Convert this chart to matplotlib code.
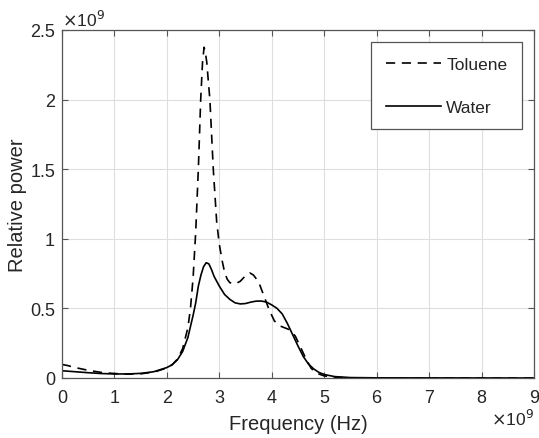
import matplotlib
matplotlib.use("Agg")
import matplotlib.pyplot as plt

plt.rcParams["font.family"] = ["Liberation Sans", "DejaVu Sans"]

# frequency in units of 1e9 Hz, relative power in units of 1e9
water_freq = [0, 0.25, 0.5, 0.75, 1.0, 1.25, 1.5, 1.75, 2.0, 2.1, 2.2, 2.3, 2.4, 2.5,
              2.55, 2.6, 2.65, 2.7, 2.75, 2.8, 2.85, 2.9, 3.0, 3.1, 3.2, 3.3, 3.4,
              3.5, 3.6, 3.7, 3.8, 3.9, 4.0, 4.1, 4.2, 4.3, 4.4, 4.5, 4.6, 4.7, 4.8,
              4.9, 5.0, 5.2, 5.5, 6.0, 9.0]
water_power = [0.052, 0.045, 0.038, 0.032, 0.029, 0.029, 0.033, 0.045, 0.075, 0.095,
               0.13, 0.19, 0.29, 0.45, 0.54, 0.66, 0.74, 0.80, 0.828, 0.82, 0.78,
               0.73, 0.66, 0.60, 0.565, 0.54, 0.532, 0.535, 0.545, 0.552, 0.553,
               0.545, 0.525, 0.50, 0.46, 0.39, 0.31, 0.23, 0.155, 0.10, 0.065,
               0.04, 0.025, 0.01, 0.003, 0.001, 0.0]

toluene_freq = [0, 0.1, 0.25, 0.5, 0.75, 1.0, 1.25, 1.5, 1.75, 2.0, 2.1, 2.2, 2.3,
                2.4, 2.45, 2.5, 2.55, 2.6, 2.645, 2.68, 2.71, 2.73, 2.76, 2.82,
                2.885, 2.95, 3.0, 3.05, 3.1, 3.15, 3.2, 3.3, 3.4, 3.5, 3.58, 3.65,
                3.75, 3.85, 3.95, 4.05, 4.15, 4.25, 4.35, 4.45, 4.55, 4.65, 4.75,
                4.85, 5.0, 5.2, 5.5, 6.0, 9.0]
toluene_power = [0.097, 0.09, 0.075, 0.055, 0.04, 0.032, 0.028, 0.03, 0.042, 0.072,
                 0.095, 0.135, 0.21, 0.36, 0.5, 0.72, 1.05, 1.50, 2.0, 2.27, 2.376,
                 2.35, 2.27, 2.0, 1.5, 1.12, 0.96, 0.85, 0.76, 0.71, 0.685, 0.675,
                 0.695, 0.735, 0.755, 0.74, 0.69, 0.59, 0.49, 0.41, 0.375, 0.36,
                 0.345, 0.30, 0.22, 0.14, 0.07, 0.035, 0.015, 0.005, 0.001, 0.0, 0.0]

x_ticks = [0, 1, 2, 3, 4, 5, 6, 7, 8, 9]
y_ticks = [0, 0.5, 1, 1.5, 2, 2.5]
y_tick_labels = ["0", "0.5", "1", "1.5", "2", "2.5"]

text_color = "#262626"
axis_color = "#555555"

fig = plt.figure(figsize=(5.39, 4.39), dpi=100)
ax = fig.add_axes([0.115, 0.1367, 0.8757, 0.7927])

ax.plot(toluene_freq, toluene_power, color="black", linestyle="--",
        dashes=(5.5, 4), linewidth=1.2, label="Toluene")
ax.plot(water_freq, water_power, color="black", linestyle="-",
        linewidth=1.2, label="Water")

ax.set_xlim(0, 9)
ax.set_ylim(0, 2.5)
ax.set_xticks(x_ticks)
ax.set_yticks(y_ticks)
ax.set_yticklabels(y_tick_labels)

ax.grid(True, color="#dedede", linewidth=0.8)
ax.set_axisbelow(True)

for side in ax.spines.values():
    side.set_color(axis_color)
    side.set_linewidth(0.9)

ax.tick_params(axis="both", direction="in", length=4, width=0.8, color=axis_color,
               labelsize=13, labelcolor=text_color, top=True, right=True, pad=5)
ax.tick_params(axis="x", pad=8)

ax.set_xlabel("Frequency (Hz)", fontsize=14.5, color=text_color, labelpad=6)
ax.set_ylabel("Relative power", fontsize=14.5, color=text_color, labelpad=2)

# exponent labels like MATLAB
ax.text(0.0, 1.003, r"$\times$10$^{9}$", transform=ax.transAxes, fontsize=12.5,
        color=text_color, ha="left", va="bottom")
ax.text(1.0, -0.085, r"$\times$10$^{9}$", transform=ax.transAxes, fontsize=12.5,
        color=text_color, ha="right", va="top")

leg = ax.legend(loc="upper right", bbox_to_anchor=(0.975, 0.966), borderaxespad=0,
                fontsize=12.5, handlelength=3.2, labelspacing=1.6, borderpad=0.85,
                handletextpad=0.3, fancybox=False, framealpha=1,
                edgecolor=axis_color)
leg.get_frame().set_linewidth(0.9)
for t in leg.get_texts():
    t.set_color(text_color)

fig.savefig("out.png", dpi=100)
